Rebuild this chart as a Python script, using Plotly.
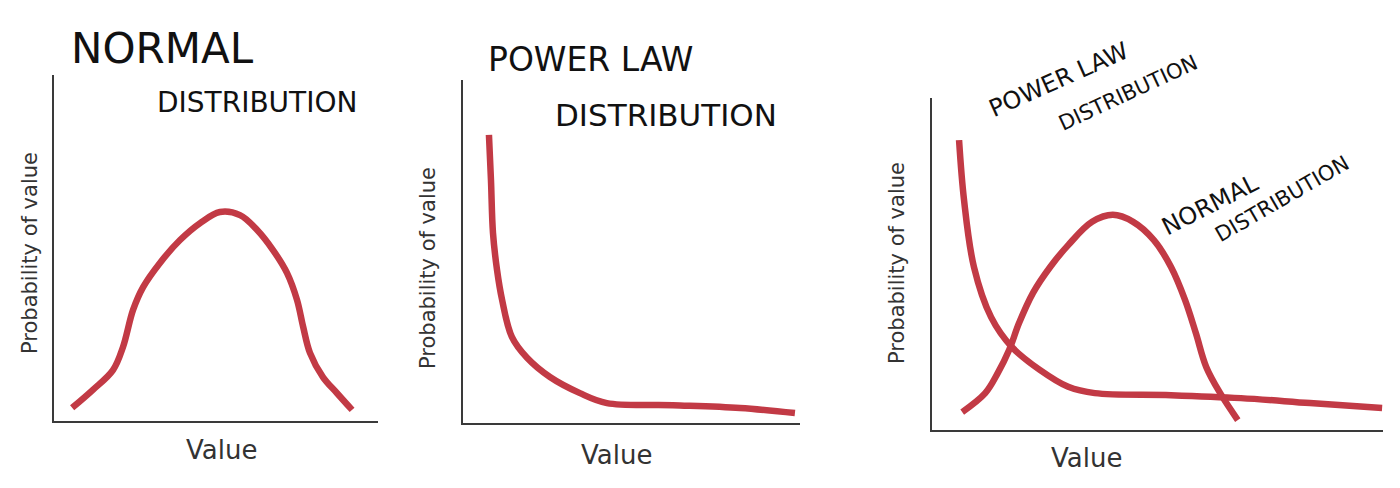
import plotly.graph_objects as go

W, H = 1400, 488

# ---- data (value axis 0-100, probability axis 0-100) ----
normal_x = [5.6, 12.0, 18.2, 21.3, 24.4, 27.5, 32.7, 38.9, 45.1, 51.2, 57.4, 62.7, 67.6, 71.9, 75.0, 76.9, 79.0, 83.0, 87.3, 92.0]
normal_y = [3.8, 9.0, 14.7, 21.4, 32.1, 38.7, 45.7, 52.3, 57.2, 60.4, 59.5, 55.2, 49.4, 42.8, 35.0, 27.2, 19.7, 12.7, 8.1, 3.2]

power_x = [7.7, 8.3, 8.9, 10.1, 11.6, 14.5, 19.0, 25.8, 34.7, 42.7, 62.3, 82.2, 98.5]
power_y = [84.0, 70.8, 55.4, 44.6, 35.9, 25.1, 19.0, 13.4, 8.7, 5.8, 5.2, 4.4, 2.9]

both_normal_x = [6.7, 11.8, 14.6, 17.1, 19.3, 22.4, 26.2, 30.2, 35.5, 40.1, 44.6, 49.2, 53.0, 56.1, 58.5, 60.8, 63.9, 67.8]
both_normal_y = [5.4, 11.1, 17.2, 24.1, 32.2, 41.3, 49.1, 55.7, 62.7, 64.8, 62.7, 57.2, 49.1, 39.2, 29.2, 19.0, 11.1, 3.0]

both_power_x = [6.0, 7.1, 9.3, 13.1, 17.7, 23.9, 30.2, 36.1, 53.0, 68.5, 83.8, 99.8]
both_power_y = [87.3, 69.3, 49.1, 34.0, 25.0, 18.1, 13.0, 11.1, 10.5, 9.6, 8.1, 6.6]

x_label = "Value"
y_label = "Probability of value"

RED = "#c23a45"
INK = "#111111"
AXIS = "#3a3a3a"
HAND = "DejaVu Sans"


def px(x):
    return x / W


def py(y):
    return 1 - y / H


fig = go.Figure()

# axis domains (pixel boxes: left, right, bottom, top)
boxes = [(54, 378, 421, 75), (463, 800, 423, 80), (932, 1383, 430, 98)]

series = [
    [(normal_x, normal_y)],
    [(power_x, power_y)],
    [(both_power_x, both_power_y), (both_normal_x, both_normal_y)],
]

layout_axes = {}
for i, (box, ser) in enumerate(zip(boxes, series), start=1):
    l, r, b, t = box
    xa = "x" if i == 1 else f"x{i}"
    ya = "y" if i == 1 else f"y{i}"
    for sx, sy in ser:
        fig.add_trace(go.Scatter(x=sx, y=sy, xaxis=xa, yaxis=ya, mode="lines",
                                 line=dict(color=RED, width=6.5, shape="spline", smoothing=1.0),
                                 hoverinfo="skip", showlegend=False))
    common = dict(showgrid=False, zeroline=False, showticklabels=False, ticks="",
                  showline=True, linecolor=AXIS, linewidth=2, fixedrange=True)
    layout_axes[f"xaxis{'' if i == 1 else i}"] = dict(domain=[px(l), px(r)], range=[0, 100],
                                                     anchor=ya, **common)
    layout_axes[f"yaxis{'' if i == 1 else i}"] = dict(domain=[py(b), py(t)], range=[0, 100],
                                                     anchor=xa, **common)

fig.update_layout(**layout_axes)

ann = []


def add_text(text, x, y, size, angle=0, color=INK, font=HAND):
    ann.append(dict(text=text, x=px(x), y=py(y), xref="paper", yref="paper",
                    showarrow=False, textangle=angle, xanchor="center", yanchor="middle",
                    font=dict(family=font, size=size, color=color)))


# panel 1
add_text("NORMAL", 162, 48, 42)
add_text("DISTRIBUTION", 257, 102, 28)
add_text(y_label, 30, 253, 21, angle=-90, color="#333333")
add_text(x_label, 221, 450, 26, color="#333333")

# panel 2
add_text("POWER LAW", 590, 59, 33)
add_text("DISTRIBUTION", 666, 115, 31)
add_text(y_label, 428, 268, 21, angle=-90, color="#333333")
add_text(x_label, 616, 455, 26, color="#333333")

# panel 3
add_text("POWER LAW", 1058, 80, 24, angle=-24)
add_text("DISTRIBUTION", 1128, 93, 21, angle=-25)
add_text("NORMAL", 1210, 205, 24, angle=-27)
add_text("DISTRIBUTION", 1282, 199, 21, angle=-30)
add_text(y_label, 897, 263, 21, angle=-90, color="#333333")
add_text(x_label, 1086, 458, 26, color="#333333")

fig.update_layout(annotations=ann, width=W, height=H,
                  margin=dict(l=0, r=0, t=0, b=0),
                  paper_bgcolor="white", plot_bgcolor="white")

fig.write_html("out.html", config={"displayModeBar": False},
               post_script="document.body.style.margin='0';document.body.style.padding='0';")
